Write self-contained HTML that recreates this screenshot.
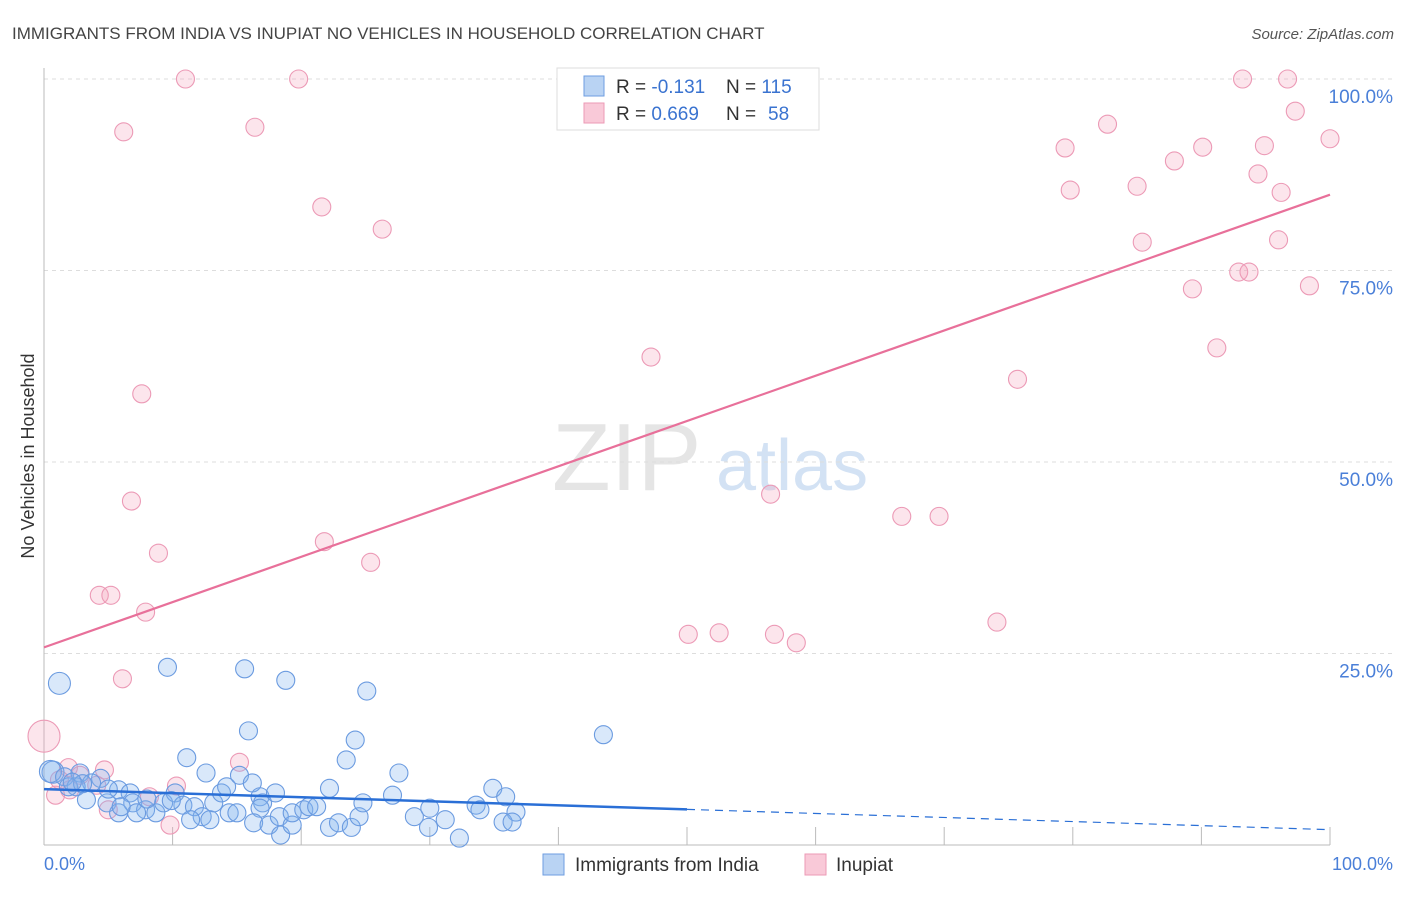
<!DOCTYPE html>
<html><head><meta charset="utf-8"><style>
body{margin:0;background:#fff;font-family:"Liberation Sans",sans-serif;}
svg text{font-family:"Liberation Sans",sans-serif;}
</style></head><body>
<svg id="chart" width="1406" height="892" xmlns="http://www.w3.org/2000/svg">
<text x="12" y="39" font-size="17" fill="#444">IMMIGRANTS FROM INDIA VS INUPIAT NO VEHICLES IN HOUSEHOLD CORRELATION CHART</text>
<text x="1394" y="39" font-size="15" fill="#555" text-anchor="end" font-style="italic">Source: ZipAtlas.com</text>
<g opacity="0.5">
<text x="552" y="490" font-size="96" fill="#ccc" font-family="Liberation Serif, serif">ZIP</text>
<text x="716" y="490" font-size="72" fill="#a9c6ea">atlas</text>
</g>
<g id="grid"></g>
<g id="pts"></g>
<g id="lines"></g>
<text transform="translate(34,456) rotate(-90)" font-size="18" fill="#333" text-anchor="middle">No Vehicles in Household</text>
<text x="44" y="870" font-size="18" fill="#4a7fd8">0.0%</text>
<text x="1393" y="870" font-size="18" fill="#4a7fd8" text-anchor="end">100.0%</text>
<g>
<rect x="557" y="68" width="262" height="62" fill="#fff" stroke="#ddd"/>
<rect x="584" y="76" width="20" height="20" fill="#b9d3f3" stroke="#6e9ee0"/>
<rect x="584" y="103" width="20" height="20" fill="#f9c9d8" stroke="#ec9ab6"/>
<text x="616" y="93" font-size="19" fill="#333">R = <tspan fill="#3a73d0">-0.131</tspan><tspan x="726">N = </tspan><tspan fill="#3a73d0">115</tspan></text>
<text x="616" y="120" font-size="19" fill="#333">R = <tspan fill="#3a73d0">0.669</tspan><tspan x="726">N = </tspan><tspan x="768" fill="#3a73d0">58</tspan></text>
</g>
<g>
<rect x="543" y="854" width="21" height="21" fill="#b9d3f3" stroke="#6e9ee0"/>
<text x="575" y="871" font-size="19" fill="#333">Immigrants from India</text>
<rect x="805" y="854" width="21" height="21" fill="#f9c9d8" stroke="#ec9ab6"/>
<text x="836" y="871" font-size="19" fill="#333">Inupiat</text>
</g>
</svg>
<script>
const yTicks=[25,50,75,100];
const yTickLabels=["25.0%","50.0%","75.0%","100.0%"];
const xTicks=[10,20,30,40,50,60,70,80,90,100];
const pinkX=[11.0,19.8,93.2,96.7,6.2,16.4,97.3,100,82.7,79.4,90.1,87.9,94.9,21.6,26.3,79.8,85.0,94.4,96.2,85.4,96.0,92.9,93.7,89.3,98.4,91.2,47.2,75.7,7.6,6.8,56.5,66.7,69.6,8.9,21.8,25.4,4.3,5.2,7.9,74.1,50.1,52.5,56.8,58.5,6.1,15.2,0,1.9,2.8,0.9,4.1,5.0,8.2,10.3,9.8,2.0,1.2,4.7];
const pinkY=[100,100,100,100,93.1,93.7,95.8,92.2,94.1,91.0,91.1,89.3,91.3,83.3,80.4,85.5,86.0,87.6,85.2,78.7,79.0,74.8,74.8,72.6,73.0,64.9,63.7,60.8,58.9,44.9,45.8,42.9,42.9,38.1,39.6,36.9,32.6,32.6,30.4,29.1,27.5,27.7,27.5,26.4,21.7,10.8,14.2,10.1,9.1,6.5,7.8,4.6,6.3,7.7,2.6,7.2,8.5,9.8];
const blueX=[1.2,9.6,15.6,18.8,25.1,43.5,15.9,24.2,23.5,27.6,11.1,12.6,0.7,0.5,1.6,2.8,4.4,3.7,2.5,5.8,6.7,3.3,4.9,5.8,6.9,7.9,8.7,7.2,9.3,10.2,10.8,11.7,12.3,12.9,11.4,13.2,13.8,14.2,15.2,14.4,15.0,16.2,16.8,17.0,16.8,18.0,16.3,17.5,18.3,18.4,19.3,19.3,20.2,20.6,21.2,22.2,22.2,22.9,23.9,24.5,24.8,27.1,28.8,29.9,30.0,31.2,32.3,33.6,33.9,34.9,35.9,36.7,35.7,36.4,1.9,5.0,3.0,8.0,9.9,2.2,6.0];
const blueY=[21.1,23.2,23.0,21.5,20.1,14.4,14.9,13.7,11.1,9.4,11.4,9.4,9.5,9.6,8.9,9.4,8.7,8.1,7.6,7.2,6.8,5.9,5.5,4.2,5.5,4.6,4.2,4.2,5.5,6.8,5.2,5.0,3.7,3.3,3.3,5.5,6.8,7.6,9.1,4.2,4.2,8.1,6.3,5.5,4.8,6.8,2.9,2.6,3.7,1.3,2.6,4.2,4.6,5.0,5.0,7.4,2.3,2.9,2.3,3.7,5.5,6.5,3.7,2.3,4.8,3.3,0.9,5.2,4.6,7.4,6.3,4.3,3.0,3.0,7.6,7.3,8.0,6.0,5.8,8.2,5.0];
const pinkLine=[25.8,84.9];
const blueLine=[7.3,2.0];
const blueSolidEnd=50;
const X0=44,X1=1330,Y0=845,Y1=79;
const sx=v=>X0+(X1-X0)*v/100, sy=v=>Y0-(Y0-Y1)*v/100;
const NS="http://www.w3.org/2000/svg";
function mk(t,a,parent){const e=document.createElementNS(NS,t);for(const k in a)e.setAttribute(k,a[k]);parent.appendChild(e);return e;}
const grid=document.getElementById('grid');
yTicks.forEach((v,i)=>{
  const l=mk('line',{x1:X0,x2:1394,y1:sy(v),y2:sy(v),stroke:'#ddd','stroke-dasharray':'4,4'},grid);
  
  
  const t=mk('text',{x:1393,y:sy(v)+24,'font-size':19,fill:'#4a7fd8','text-anchor':'end'},grid);
  t.textContent=yTickLabels[i];
  
  
});
const ax=mk('line',{x1:X0,x2:X1,y1:Y0,y2:Y0,stroke:'#bbb'},grid);


const ay=mk('line',{x1:X0,x2:X0,y1:68,y2:Y0,stroke:'#bbb'},grid);


xTicks.forEach(v=>{
  const t=mk('line',{x1:sx(v),x2:sx(v),y1:Y0-18,y2:Y0,stroke:'#bbb'},grid);
  
  
});
const pts=document.getElementById('pts');
pinkX.forEach((x,i)=>{
  const r=(x===0&&pinkY[i]>12)?16:9;
  const c=mk('circle',{cx:sx(x),cy:sy(pinkY[i]),r:r,fill:'rgba(244,160,188,0.28)',stroke:'#ec9ab6','stroke-width':1.1},pts);
  
  
});
blueX.forEach((x,i)=>{
  const r=(i===0||i===12||i===13)?11:9;
  const c=mk('circle',{cx:sx(x),cy:sy(blueY[i]),r:r,fill:'rgba(130,178,238,0.3)',stroke:'#6b9be0','stroke-width':1.1},pts);
  
  
});
const lines=document.getElementById('lines');
const pl=mk('line',{x1:sx(0),y1:sy(pinkLine[0]),x2:sx(100),y2:sy(pinkLine[1]),stroke:'#e8709a','stroke-width':2.2},lines);


const bm=blueLine[0]+(blueLine[1]-blueLine[0])*blueSolidEnd/100;
const bl=mk('line',{x1:sx(0),y1:sy(blueLine[0]),x2:sx(blueSolidEnd),y2:sy(bm),stroke:'#2a6fd6','stroke-width':2.5},lines);


const bd=mk('line',{x1:sx(blueSolidEnd),y1:sy(bm),x2:sx(100),y2:sy(blueLine[1]),stroke:'#2a6fd6','stroke-width':1.2,'stroke-dasharray':'8,6'},lines);


</script>
</body></html>
